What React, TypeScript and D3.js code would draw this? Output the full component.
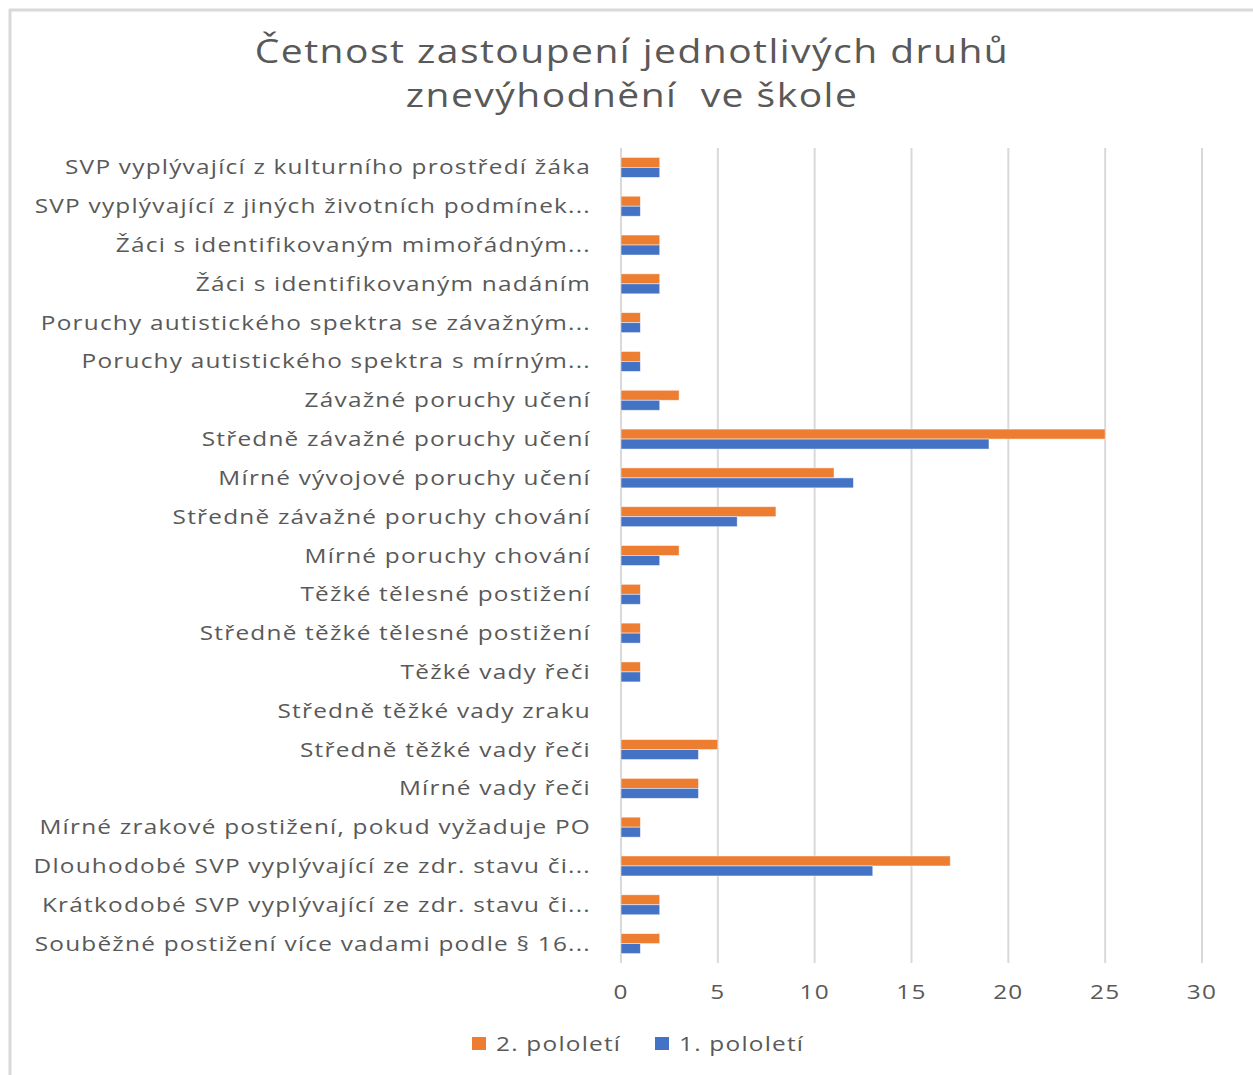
import React, { useEffect, useRef } from 'react';
import * as d3 from 'd3';

const categories = [
  'SVP vyplývající z kulturního prostředí žáka',
  'SVP vyplývající z jiných životních podmínek...',
  'Žáci s identifikovaným mimořádným...',
  'Žáci s identifikovaným nadáním',
  'Poruchy autistického spektra se závažným...',
  'Poruchy autistického spektra s mírným...',
  'Závažné poruchy učení',
  'Středně závažné poruchy učení',
  'Mírné vývojové poruchy učení',
  'Středně závažné poruchy chování',
  'Mírné poruchy chování',
  'Těžké tělesné postižení',
  'Středně těžké tělesné postižení',
  'Těžké vady řeči',
  'Středně těžké vady zraku',
  'Středně těžké vady řeči',
  'Mírné vady řeči',
  'Mírné zrakové postižení, pokud vyžaduje PO',
  'Dlouhodobé SVP vyplývající ze zdr. stavu či...',
  'Krátkodobé SVP vyplývající ze zdr. stavu či...',
  'Souběžné postižení více vadami podle § 16...',
];

const secondHalf = [2, 1, 2, 2, 1, 1, 3, 25, 11, 8, 3, 1, 1, 1, 0, 5, 4, 1, 17, 2, 2];
const firstHalf = [2, 1, 2, 2, 1, 1, 2, 19, 12, 6, 2, 1, 1, 1, 0, 4, 4, 1, 13, 2, 1];

const seriesNames = ['2. pololetí', '1. pololetí'];
const seriesColors = ['#ED7D31', '#4472C4'];
const xTicks = [0, 5, 10, 15, 20, 25, 30];

const titleLines = ['Četnost zastoupení jednotlivých druhů', 'znevýhodnění  ve škole'];

const W = 1253;
const H = 1075;
const FONT = '"Open Sans", "Noto Sans", sans-serif';
const TEXT = '#595959';
// the source picture is stretched sideways, so text is widened a bit
const STRETCH = 1.22;

export default function App() {
  const svgRef = useRef<SVGSVGElement>(null);

  useEffect(() => {
    if (!svgRef.current) return;
    const svg = d3.select(svgRef.current);
    svg.selectAll('*').remove();

    svg.append('rect').attr('width', W).attr('height', H).attr('fill', '#fff');

    // chart frame (only left and top edges visible)
    svg.append('line').attr('x1', 10).attr('x2', 10).attr('y1', 9).attr('y2', H)
      .attr('stroke', '#d9d9d9').attr('stroke-width', 3);
    svg.append('line').attr('x1', 9).attr('x2', W).attr('y1', 10).attr('y2', 10)
      .attr('stroke', '#d9d9d9').attr('stroke-width', 3);

    const x = d3.scaleLinear().domain([0, 30]).range([621, 1202]);
    const y = d3.scaleBand<string>()
      .domain(categories)
      .range([148, 963])
      .paddingInner(0.485)
      .paddingOuter(0.2425);
    const ySub = d3.scaleBand<string>()
      .domain(seriesNames)
      .range([0, y.bandwidth()]);

    const place = (tx: number, ty: number) => `translate(${tx},${ty}) scale(${STRETCH},1)`;

    // gridlines
    svg.append('g')
      .selectAll('line')
      .data(xTicks)
      .enter()
      .append('line')
      .attr('x1', d => x(d))
      .attr('x2', d => x(d))
      .attr('y1', 148)
      .attr('y2', 963)
      .attr('stroke', '#d9d9d9')
      .attr('stroke-width', 2);

    // bars
    const seriesValues = [secondHalf, firstHalf];
    seriesNames.forEach((name, si) => {
      svg.append('g')
        .selectAll('rect')
        .data(categories)
        .enter()
        .filter((_, i) => seriesValues[si][i] > 0)
        .append('rect')
        .attr('x', x(0))
        .attr('y', d => y(d)! + ySub(name)!)
        .attr('width', d => x(seriesValues[si][categories.indexOf(d)]) - x(0))
        .attr('height', ySub.bandwidth())
        .attr('fill', seriesColors[si])
        .attr('stroke', '#fff')
        .attr('stroke-opacity', 0.6)
        .attr('stroke-width', 0.8);
    });

    // category labels
    svg.append('g')
      .selectAll('text')
      .data(categories)
      .enter()
      .append('text')
      .attr('transform', d => place(591, y(d)! + y.bandwidth() / 2))
      .attr('dy', '0.35em')
      .attr('text-anchor', 'end')
      .style('font-family', FONT)
      .style('font-size', '20px')
      .style('letter-spacing', '1px')
      .style('fill', TEXT)
      .text(d => d);

    // x tick labels
    svg.append('g')
      .selectAll('text')
      .data(xTicks)
      .enter()
      .append('text')
      .attr('transform', d => place(x(d), 999))
      .attr('text-anchor', 'middle')
      .style('font-family', FONT)
      .style('font-size', '20px')
      .style('letter-spacing', '1px')
      .style('fill', TEXT)
      .text(d => d);

    // title
    svg.append('g')
      .selectAll('text')
      .data(titleLines)
      .enter()
      .append('text')
      .attr('transform', (_, i) => place(632, 63 + i * 44))
      .attr('text-anchor', 'middle')
      .style('font-family', FONT)
      .style('font-size', '32px')
      .style('letter-spacing', '1.2px')
      .style('fill', TEXT)
      .style('white-space', 'pre')
      .text(d => d);

    // legend
    const legendX = [472, 655];
    const legend = svg.append('g');
    seriesNames.forEach((name, i) => {
      legend.append('rect')
        .attr('x', legendX[i])
        .attr('y', 1037)
        .attr('width', 14)
        .attr('height', 13)
        .attr('fill', seriesColors[i]);
      legend.append('text')
        .attr('transform', place(legendX[i] + 24, 1044))
        .attr('dy', '0.35em')
        .style('font-family', FONT)
        .style('font-size', '20px')
        .style('letter-spacing', '1px')
        .style('fill', TEXT)
        .text(name);
    });
  }, []);

  return (
    <svg
      ref={svgRef}
      width={W}
      height={H}
      style={{ position: 'absolute', left: 0, top: 0, display: 'block' }}
    />
  );
}
